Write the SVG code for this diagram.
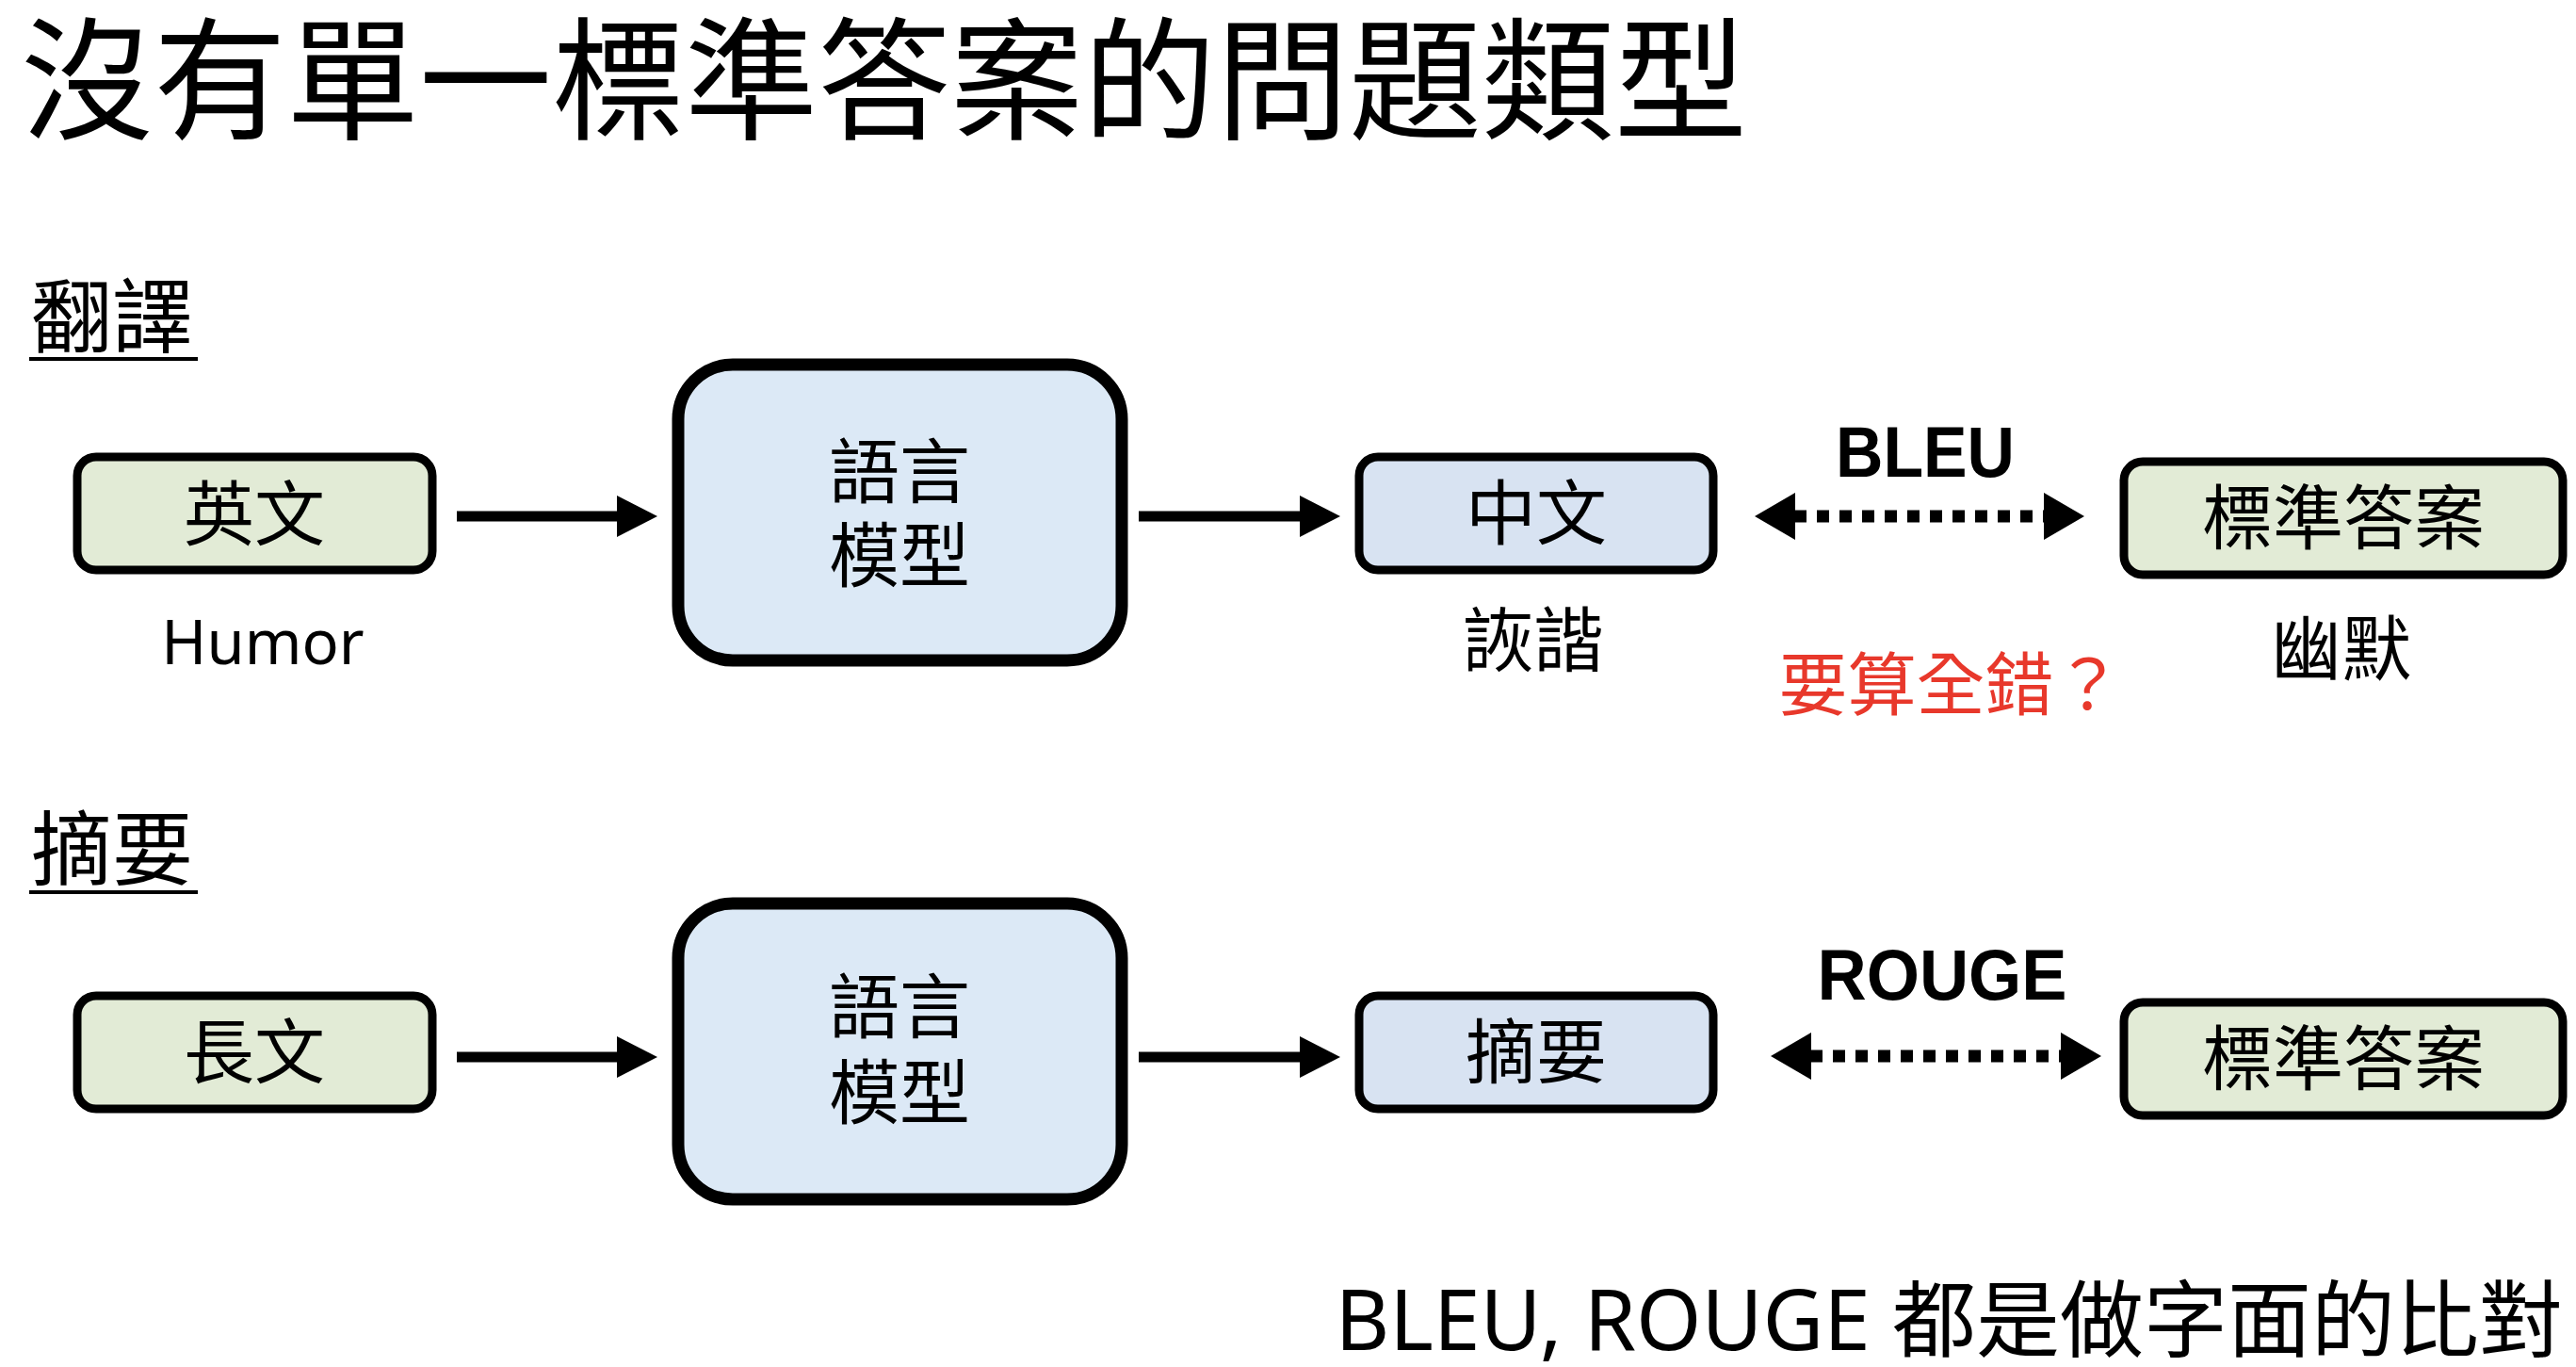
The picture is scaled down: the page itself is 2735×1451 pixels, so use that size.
<svg xmlns="http://www.w3.org/2000/svg" width="2735" height="1451" viewBox="0 0 2735 1451">
<style>
  .cjk { font-family: "Noto Sans CJK TC", "Noto Sans CJK SC", sans-serif; fill: #000; }
  .lat { font-family: "Noto Sans", "Noto Sans CJK TC", sans-serif; fill: #000; }
  .bold { font-family: "Liberation Sans", "Noto Sans", sans-serif; font-weight: bold; fill: #000; }
  .green { fill: #e2ebd6; stroke: #000; stroke-width: 9; }
  .blue { fill: #d8e3f2; stroke: #000; stroke-width: 9; }
  .lm { fill: #dce9f6; stroke: #000; stroke-width: 13; }
  .arrow { stroke: #000; stroke-width: 11; fill: none; }
  .dots { stroke: #000; stroke-width: 13; stroke-dasharray: 13 11; fill: none; }
  .head { fill: #000; }
  .label { font-size: 75px; text-anchor: middle; }
  .ul { stroke: #000; stroke-width: 4; }
</style>
<rect width="2735" height="1451" fill="#fff"/>

<g id="title">
  <text class="cjk" x="22" y="137" font-size="141">沒有單一標準答案的問題類型</text>
</g>

<g id="section-translation">
  <text class="cjk" x="33" y="368" font-size="86">翻譯</text>
  <line class="ul" x1="31" y1="381" x2="210" y2="381"/>
</g>
<g id="section-summary">
  <text class="cjk" x="33" y="933" font-size="86">摘要</text>
  <line class="ul" x1="31" y1="947" x2="210" y2="947"/>
</g>

<g id="connectors">
  <line class="arrow" x1="485" y1="548" x2="660" y2="548"/>
  <polygon class="head" points="655,526 698,548 655,570"/>
  <line class="arrow" x1="1209" y1="548" x2="1385" y2="548"/>
  <polygon class="head" points="1380,526 1423,548 1380,570"/>
  <line class="dots" x1="1905" y1="548" x2="2172" y2="548"/>
  <polygon class="head" points="1906,523 1863,548 1906,573"/>
  <polygon class="head" points="2170,523 2213,548 2170,573"/>

  <line class="arrow" x1="485" y1="1122" x2="660" y2="1122"/>
  <polygon class="head" points="655,1100 698,1122 655,1144"/>
  <line class="arrow" x1="1209" y1="1122" x2="1385" y2="1122"/>
  <polygon class="head" points="1380,1100 1423,1122 1380,1144"/>
  <line class="dots" x1="1922" y1="1121" x2="2190" y2="1121"/>
  <polygon class="head" points="1923,1096 1880,1121 1923,1146"/>
  <polygon class="head" points="2188,1096 2231,1121 2188,1146"/>
</g>

<g id="node-english">
  <rect class="green" x="82" y="485" width="377" height="120" rx="20"/>
  <text class="cjk label" x="270" y="573">英文</text>
  <text class="lat" x="279" y="705" font-size="65" text-anchor="middle">Humor</text>
</g>
<g id="node-lm1">
  <rect class="lm" x="720" y="387" width="471" height="314" rx="58"/>
  <text class="cjk label" x="955" y="528">語言</text>
  <text class="cjk label" x="955" y="617">模型</text>
</g>
<g id="node-chinese">
  <rect class="blue" x="1443" y="485" width="376" height="120" rx="20"/>
  <text class="cjk label" x="1631" y="572">中文</text>
  <text class="cjk label" x="1628" y="707">詼諧</text>
</g>
<g id="label-bleu">
  <text class="bold" x="2044" y="506" font-size="76" text-anchor="middle" textLength="190" lengthAdjust="spacingAndGlyphs">BLEU</text>
  <text class="cjk" x="2071" y="753" font-size="73" text-anchor="middle" style="fill:#e8382b">要算全錯？</text>
</g>
<g id="node-ref1">
  <rect class="green" x="2255" y="490" width="466" height="120" rx="20"/>
  <text class="cjk label" x="2488" y="577">標準答案</text>
  <text class="cjk label" x="2486" y="716">幽默</text>
</g>

<g id="node-longtext">
  <rect class="green" x="82" y="1057" width="377" height="120" rx="20"/>
  <text class="cjk label" x="270" y="1144">長文</text>
</g>
<g id="node-lm2">
  <rect class="lm" x="720" y="959" width="471" height="314" rx="58"/>
  <text class="cjk label" x="955" y="1096">語言</text>
  <text class="cjk label" x="955" y="1187">模型</text>
</g>
<g id="node-summary">
  <rect class="blue" x="1443" y="1057" width="376" height="120" rx="20"/>
  <text class="cjk label" x="1631" y="1144">摘要</text>
</g>
<g id="label-rouge">
  <text class="bold" x="2062" y="1061" font-size="76" text-anchor="middle" textLength="265" lengthAdjust="spacingAndGlyphs">ROUGE</text>
</g>
<g id="node-ref2">
  <rect class="green" x="2255" y="1064" width="466" height="120" rx="20"/>
  <text class="cjk label" x="2488" y="1151">標準答案</text>
</g>

<g id="footer">
  <text class="lat" x="2721" y="1433" font-size="89" text-anchor="end">BLEU, ROUGE 都是做字面的比對</text>
</g>
</svg>
